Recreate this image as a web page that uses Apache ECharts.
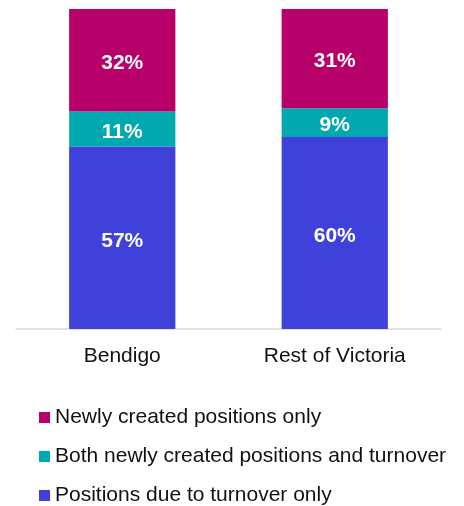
<!DOCTYPE html>
<html>
<head>
<meta charset="utf-8">
<script src="https://cdn.jsdelivr.net/npm/echarts@6/dist/echarts.min.js"></script>
<style>
  html, body { margin: 0; padding: 0; background: #fff; }
  #chart { width: 464px; height: 506px; }
</style>
</head>
<body>
<div id="chart"></div>
<script>
// 数据
var categories = ['Bendigo', 'Rest of Victoria'];
var turnoverOnly = [57, 60];
var bothNewAndTurnover = [11, 9];
var newOnly = [32, 31];
var seriesNames = [
  'Newly created positions only',
  'Both newly created positions and turnover',
  'Positions due to turnover only'
];

var chart = echarts.init(document.getElementById('chart'));

function barSeries(name, data, color) {
  return {
    name: name,
    type: 'bar',
    stack: 'total',
    barWidth: '50%',
    data: data,
    itemStyle: { color: color },
    label: {
      show: true,
      position: 'inside',
      offset: [0, 3],
      formatter: '{c}%',
      color: '#fff',
      fontSize: 21,
      fontWeight: 'bold',
      fontFamily: 'Liberation Sans'
    }
  };
}

chart.setOption({
  animation: false,
  textStyle: { fontFamily: 'Liberation Sans' },
  grid: { left: 16, right: 23, top: 9, bottom: 177 },
  legend: {
    data: seriesNames,
    orient: 'vertical',
    left: 34,
    top: 402,
    height: 110,
    icon: 'rect',
    itemWidth: 11,
    itemHeight: 11,
    itemGap: 18,
    textStyle: { fontSize: 21, color: '#111', fontFamily: 'Liberation Sans' }
  },
  xAxis: {
    type: 'category',
    data: categories,
    axisLine: { lineStyle: { color: '#d9d9d9', width: 1.5 } },
    axisTick: { show: false },
    axisLabel: { fontSize: 21, color: '#111', margin: 17 }
  },
  yAxis: {
    type: 'value',
    min: 0,
    max: 100,
    show: false
  },
  series: [
    barSeries(seriesNames[2], turnoverOnly, '#4040db'),
    barSeries(seriesNames[1], bothNewAndTurnover, '#00a8b0'),
    barSeries(seriesNames[0], newOnly, '#b7006a')
  ]
});
</script>
</body>
</html>
